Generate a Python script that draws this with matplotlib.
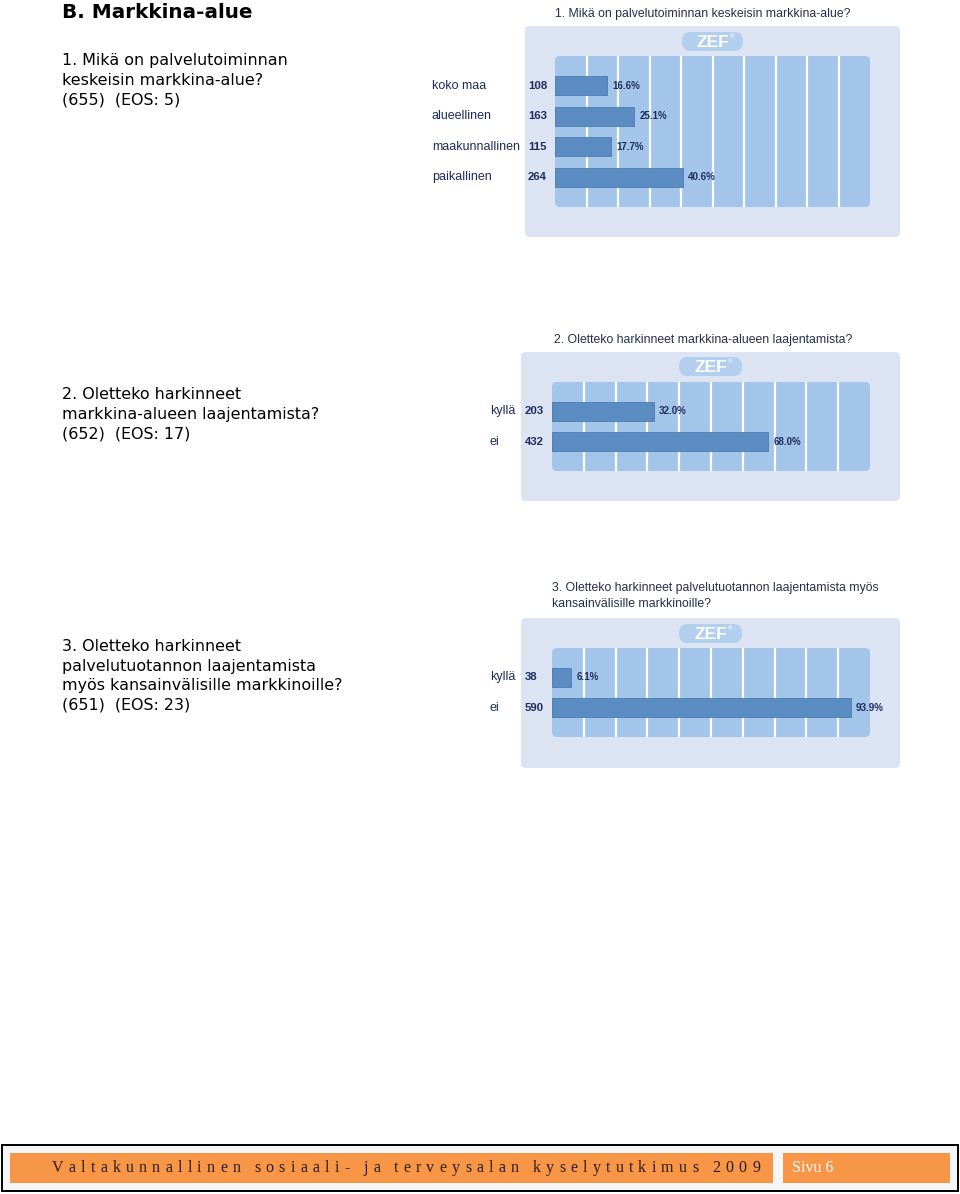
import matplotlib
matplotlib.use("Agg")
import matplotlib.pyplot as plt
from matplotlib.patches import FancyBboxPatch, Rectangle
from matplotlib.transforms import blended_transform_factory

# --- data ---
q1_title = "1. Mikä on palvelutoiminnan keskeisin markkina-alue?"
q1_cats = ["koko maa", "alueellinen", "maakunnallinen", "paikallinen"]
q1_counts = [108, 163, 115, 264]
q1_pcts = [16.6, 25.1, 17.7, 40.6]

q2_title = "2. Oletteko harkinneet markkina-alueen laajentamista?"
q2_cats = ["kyllä", "ei"]
q2_counts = [203, 432]
q2_pcts = [32.0, 68.0]

q3_title = "3. Oletteko harkinneet palvelutuotannon laajentamista myös\nkansainvälisille markkinoille?"
q3_cats = ["kyllä", "ei"]
q3_counts = [38, 590]
q3_pcts = [6.1, 93.9]

left_texts = [
    "1. Mikä on palvelutoiminnan\nkeskeisin markkina-alue?\n(655)  (EOS: 5)",
    "2. Oletteko harkinneet\nmarkkina-alueen laajentamista?\n(652)  (EOS: 17)",
    "3. Oletteko harkinneet\npalvelutuotannon laajentamista\nmyös kansainvälisille markkinoille?\n(651)  (EOS: 23)",
]
footer_text = "Valtakunnallinen sosiaali- ja terveysalan kyselytutkimus 2009"
page_text = "Sivu 6"

PANEL = "#dce3f3"
INNER = "#a3c5e9"
PILL = "#b3cfee"
BAR = "#5a8cc2"
NAVY = "#1e2c5c"
TITLE_C = "#262f48"

W, H = 960, 1194
fig = plt.figure(figsize=(W / 100, H / 100), dpi=100)
page = fig.add_axes([0, 0, 1, 1])
page.set_xlim(0, W)
page.set_ylim(H, 0)
page.axis("off")


def box(x0, y0, x1, y1, color, r):
    page.add_patch(FancyBboxPatch((x0, y0), x1 - x0, y1 - y0,
                                  boxstyle=f"round,pad=0,rounding_size={r}",
                                  fc=color, ec="none"))


def chart(title, title_xy, title_ha, panel, pill, inner, cats, counts, pcts,
          cat_x, count_x, bar_h):
    page.text(title_xy[0], title_xy[1], title, ha=title_ha, va="center",
              fontsize=8.8, color=TITLE_C, family="Liberation Sans",
              linespacing=1.35)
    box(*panel, PANEL, 5)
    box(*pill, PILL, 9)
    page.text((pill[0] + pill[2]) / 2, (pill[1] + pill[3]) / 2 + 1, "ZEF",
              ha="center", va="center", fontsize=12.5, weight="bold",
              color="white", family="Liberation Sans")
    page.text((pill[0] + pill[2]) / 2 + 16, pill[1] + 5, "®", ha="left",
              va="center", fontsize=4.5, color="white", family="DejaVu Sans")
    box(*inner, INNER, 5)

    x0, y0, x1, y1 = inner
    ax = fig.add_axes([x0 / W, 1 - y1 / H, (x1 - x0) / W, (y1 - y0) / H])
    ax.patch.set_alpha(0)
    ax.set_xlim(0, 100)
    n = len(cats)
    pad = (y1 - y0) / 30.5 - n
    ax.set_ylim(n - 1 + (pad + 1) / 2, -(pad + 1) / 2)
    ax.axis("off")
    for g in range(10, 100, 10):
        ax.axvline(g, color="white", lw=1.6, zorder=1)
    ys = list(range(n))
    ax.barh(ys, pcts, height=bar_h, color=BAR, edgecolor="#4a7bb0", lw=0.6,
            zorder=3)
    tr = blended_transform_factory(page.transData, ax.transData)
    for y, c, cnt, p in zip(ys, cats, counts, pcts):
        page.text(cat_x, y, c, transform=tr, ha="left", va="center",
                  fontsize=9, color=NAVY, family="Liberation Sans")
        page.text(count_x, y, str(cnt), transform=tr, ha="left", va="center",
                  fontsize=8.2, weight="bold", color=NAVY,
                  family="Liberation Sans")
        ax.text(p + 1.7, y, f"{p:.1f}%", ha="left", va="center",
                fontsize=7, weight="bold", color=NAVY,
                family="Liberation Sans", clip_on=False, zorder=4)


chart(q1_title, (703, 14), "center", (525, 26, 900, 237), (682, 32, 743, 51),
      (555, 56, 870, 207), q1_cats, q1_counts, q1_pcts, 432, 528, 0.62)
chart(q2_title, (703, 340), "center", (521, 352, 900, 501), (679, 357, 742, 376),
      (552, 382, 870, 471), q2_cats, q2_counts, q2_pcts, 490, 525, 0.63)
chart(q3_title, (552, 596), "left", (521, 618, 900, 768), (679, 624, 742, 643),
      (552, 648, 870, 737), q3_cats, q3_counts, q3_pcts, 490, 525, 0.63)

# left column text
page.text(62, 13, "B. Markkina-alue", ha="left", va="center", fontsize=14.4,
          weight="bold", color="black", family="DejaVu Sans")
for txt, y in zip(left_texts, [53, 387, 639]):
    page.text(62, y, txt, ha="left", va="top", fontsize=11.4, color="black",
              family="DejaVu Sans", linespacing=1.38)

# footer
page.add_patch(Rectangle((2, 1145), 956, 46, fc="#f6f6f6", ec="black", lw=1.4))
page.add_patch(Rectangle((10, 1153), 763, 30, fc="#f79646", ec="none"))
page.add_patch(Rectangle((783, 1153), 167, 30, fc="#f79646", ec="none"))

# letter-spaced footer line: measure each glyph, then spread over 52..760 px
renderer = fig.canvas.get_renderer()
glyphs = []
widths = []
for ch in footer_text:
    t = page.text(0, 1168, ch if ch != " " else "n", ha="left", va="center",
                  fontsize=11.5, color="#2a1a10", family="Liberation Serif")
    w = t.get_window_extent(renderer).width
    if ch == " ":
        t.remove()
        t = None
        w *= 0.45
    glyphs.append(t)
    widths.append(w)
track = (760 - 52 - sum(widths)) / (len(footer_text) - 1)
x = 52
for t, w in zip(glyphs, widths):
    if t is not None:
        t.set_x(x)
    x += w + track

page.text(792, 1168, page_text, ha="left", va="center", fontsize=11.5,
          color="white", family="Liberation Serif")

fig.savefig("out.png", dpi=100)
